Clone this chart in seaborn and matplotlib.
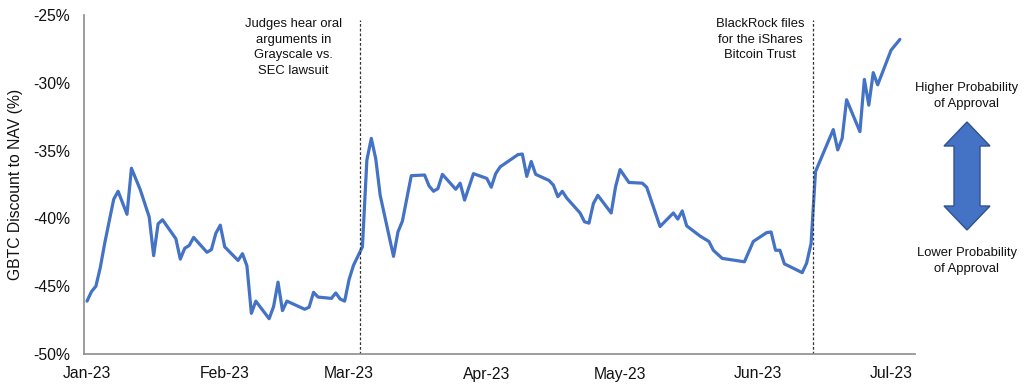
import matplotlib
matplotlib.use("Agg")
import matplotlib.pyplot as plt
import matplotlib.dates as mdates
import matplotlib.ticker as mticker
from matplotlib.patches import Polygon
import numpy as np
import pandas as pd
import seaborn as sns

# ---------------- data ----------------
dates = [
    "2023-01-01", "2023-01-02", "2023-01-03", "2023-01-04", "2023-01-05", "2023-01-07",
    "2023-01-08", "2023-01-10", "2023-01-11", "2023-01-13", "2023-01-15", "2023-01-16",
    "2023-01-17", "2023-01-18", "2023-01-21", "2023-01-22", "2023-01-23", "2023-01-24",
    "2023-01-25", "2023-01-28", "2023-01-29", "2023-01-30", "2023-01-31", "2023-02-01",
    "2023-02-04", "2023-02-05", "2023-02-06", "2023-02-07", "2023-02-08", "2023-02-11",
    "2023-02-12", "2023-02-13", "2023-02-14", "2023-02-15", "2023-02-19", "2023-02-20",
    "2023-02-21", "2023-02-22", "2023-02-25", "2023-02-26", "2023-02-27", "2023-02-28",
    "2023-03-01", "2023-03-02", "2023-03-04", "2023-03-05", "2023-03-06", "2023-03-07",
    "2023-03-08", "2023-03-11", "2023-03-12", "2023-03-13", "2023-03-15", "2023-03-18",
    "2023-03-19", "2023-03-20", "2023-03-21", "2023-03-22", "2023-03-25", "2023-03-26",
    "2023-03-27", "2023-03-29", "2023-04-01", "2023-04-02", "2023-04-03", "2023-04-04",
    "2023-04-08", "2023-04-09", "2023-04-10", "2023-04-11", "2023-04-12", "2023-04-15",
    "2023-04-16", "2023-04-17", "2023-04-18", "2023-04-19", "2023-04-22", "2023-04-23",
    "2023-04-24", "2023-04-25", "2023-04-26", "2023-04-29", "2023-04-30", "2023-05-01",
    "2023-05-03", "2023-05-06", "2023-05-07", "2023-05-10", "2023-05-13", "2023-05-14",
    "2023-05-15", "2023-05-16", "2023-05-19", "2023-05-21", "2023-05-22", "2023-05-24",
    "2023-05-29", "2023-05-31", "2023-06-03", "2023-06-04", "2023-06-05", "2023-06-06",
    "2023-06-07", "2023-06-11", "2023-06-12", "2023-06-13", "2023-06-14", "2023-06-18",
    "2023-06-19", "2023-06-20", "2023-06-21", "2023-06-24", "2023-06-25", "2023-06-26",
    "2023-06-27", "2023-06-28", "2023-07-01", "2023-07-03",
]
discount = [
    -46.1, -45.4, -45.0, -43.6, -41.8, -38.6,
    -38.0, -39.7, -36.3, -37.9, -39.9, -42.75,
    -40.4, -40.1, -41.5, -43.0, -42.2, -42.0,
    -41.4, -42.5, -42.3, -41.1, -40.5, -42.1,
    -43.1, -42.6, -43.5, -47.0, -46.1, -47.4,
    -46.5, -44.7, -46.8, -46.1, -46.7, -46.55,
    -45.45, -45.8, -45.9, -45.5, -45.95, -46.1,
    -44.5, -43.45, -42.1, -35.7, -34.1, -35.6,
    -38.3, -42.8, -41.0, -40.2, -36.85, -36.8,
    -37.6, -38.0, -37.8, -36.75, -37.85, -37.4,
    -38.65, -36.7, -37.05, -37.7, -36.7, -36.2,
    -35.3, -35.25, -36.9, -35.8, -36.75, -37.2,
    -37.55, -38.4, -38.0, -38.5, -39.6, -40.25,
    -40.35, -38.9, -38.3, -39.6, -37.65, -36.4,
    -37.35, -37.4, -37.7, -40.6, -39.6, -40.05,
    -39.45, -40.55, -41.3, -41.7, -42.35, -42.95,
    -43.2, -41.7, -41.05, -41.0, -42.35, -42.35,
    -43.35, -44.0, -43.3, -41.85, -36.55, -33.45,
    -34.95, -34.1, -31.25, -33.6, -29.75, -31.65,
    -29.25, -30.15, -27.6, -26.8,
]
month_ticks = ["2023-01-01", "2023-02-01", "2023-03-01", "2023-04-01",
               "2023-05-01", "2023-06-01", "2023-07-01"]
y_ticks = [-50, -45, -40, -35, -30, -25]
event_dates = ["2023-03-03 12:00", "2023-06-13 09:00"]
event_texts = ["Judges hear oral\narguments in\nGrayscale vs.\nSEC lawsuit",
               "BlackRock files\nfor the iShares\nBitcoin Trust"]
event_text_dates = ["2023-02-16 12:00", "2023-06-01 12:00"]

df = pd.DataFrame({"date": pd.to_datetime(dates), "discount": discount})

# ---------------- style ----------------
sns.set_theme(style="white")
plt.rcParams["font.family"] = ["Liberation Sans", "DejaVu Sans"]

W, H = 1024, 387
fig = plt.figure(figsize=(W / 100, H / 100), dpi=100)
ax = fig.add_axes([84 / W, 1 - 354 / H, (915 - 84) / W, (354 - 15) / H])

blue = "#4472C4"
sns.lineplot(data=df, x="date", y="discount", ax=ax, color=blue, linewidth=2.3)

start = pd.Timestamp("2023-01-01")
ax.set_xlim(start - pd.Timedelta(days=0.68), start + pd.Timedelta(days=186.4))
ax.set_ylim(-50, -25)

ax.set_xticks(pd.to_datetime(month_ticks))
ax.xaxis.set_major_formatter(mdates.DateFormatter("%b-%y"))
ax.set_yticks(y_ticks)
ax.yaxis.set_major_formatter(mticker.FuncFormatter(lambda v, p: f"{v:.0f}%"))
ax.tick_params(axis="both", length=0, labelsize=11.3, colors="#111111")
ax.tick_params(axis="y", pad=10)
ax.tick_params(axis="x", pad=9)

ax.set_xlabel("")
ax.set_ylabel("GBTC Discount to NAV (%)", fontsize=11.3, color="#111111", labelpad=7)

for side in ["top", "right"]:
    ax.spines[side].set_visible(False)
for side in ["left", "bottom"]:
    ax.spines[side].set_color("#8c8c8c")
    ax.spines[side].set_linewidth(1.2)

for d in event_dates:
    ax.axvline(pd.Timestamp(d), ymin=0, ymax=0.985, color="#333333",
               linewidth=0.9, linestyle=(0, (2.2, 1.6)))

for t, d in zip(event_texts, event_text_dates):
    ax.text(pd.Timestamp(d), 0.99, t, transform=ax.get_xaxis_transform(),
            ha="center", va="top", fontsize=9.4, color="#111111", linespacing=1.38)

# right-side annotation
fig.text(967 / W, 1 - 96 / H, "Higher Probability\nof Approval", ha="center", va="center",
         fontsize=9.4, color="#111111", linespacing=1.38)
fig.text(967 / W, 1 - 261 / H, "Lower Probability\nof Approval", ha="center", va="center",
         fontsize=9.4, color="#111111", linespacing=1.38)

arrow_px = [(967, 122), (990, 146), (980, 146), (980, 206), (990, 206), (967, 230),
            (944, 206), (954, 206), (954, 146), (944, 146)]
arrow = Polygon([(x / W, 1 - y / H) for x, y in arrow_px], closed=True,
                transform=fig.transFigure, facecolor=blue, edgecolor="#2F528F",
                linewidth=1.0)
fig.patches.append(arrow)

fig.savefig("out.png", dpi=100)
